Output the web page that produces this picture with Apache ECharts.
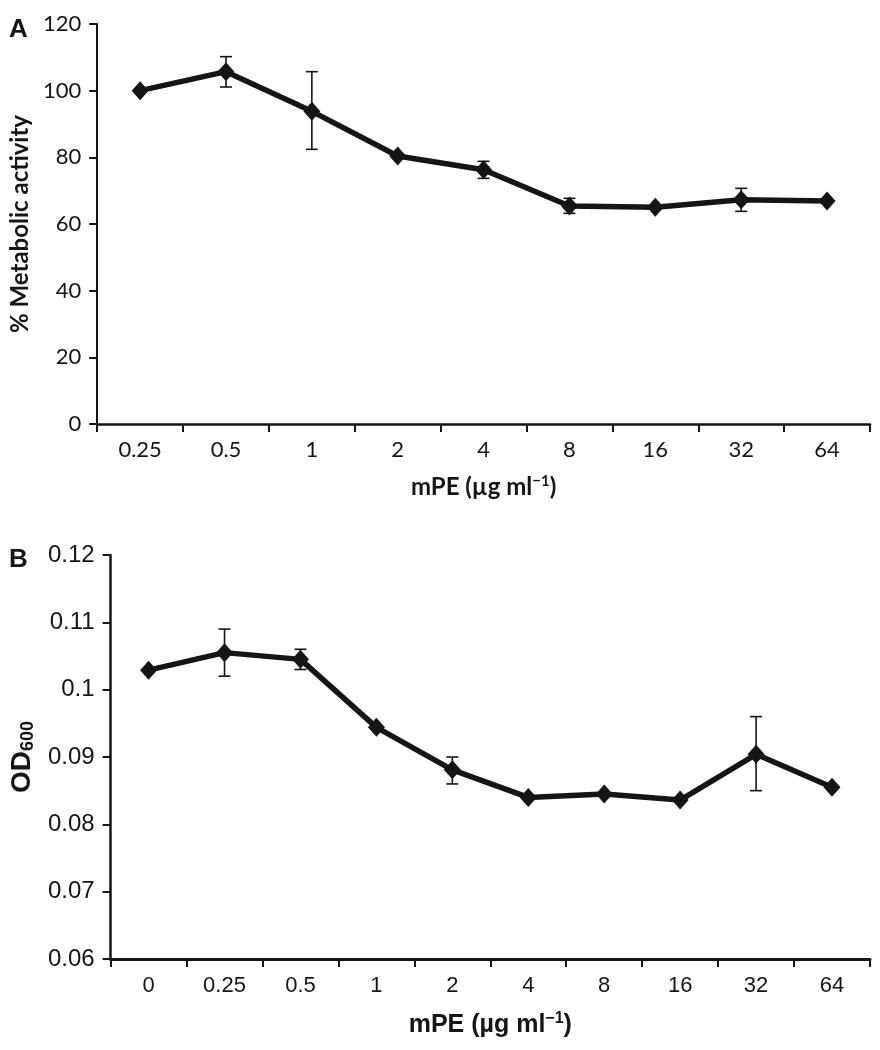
<!DOCTYPE html>
<html>
<head>
<meta charset="utf-8">
<script src="https://cdn.jsdelivr.net/npm/echarts@6/dist/echarts.min.js"></script>
<style>
  html, body { margin: 0; padding: 0; background: #fff; }
  #chart { width: 880px; height: 1050px; }
</style>
</head>
<body>
<div id="chart"></div>
<script>
// panel A - metabolic activity
var catsA = ['0.25', '0.5', '1', '2', '4', '8', '16', '32', '64'];
var meanA = [100, 105.7, 93.8, 80.4, 76.3, 65.4, 65.0, 67.3, 66.9];
var lowA  = [null, 101.1, 82.4, null, 73.7, 63.2, null, 63.8, null];
var highA = [null, 110.2, 105.7, null, 78.8, 67.7, null, 70.7, null];

// panel B - OD600
var catsB = ['0', '0.25', '0.5', '1', '2', '4', '8', '16', '32', '64'];
var meanB = [0.1029, 0.1055, 0.1045, 0.0944, 0.0881, 0.0840, 0.0845, 0.0836, 0.0904, 0.0855];
var lowB  = [null, 0.1020, 0.1030, null, 0.0860, null, null, null, 0.0850, null];
var highB = [null, 0.1090, 0.1060, null, 0.0900, null, null, null, 0.0960, null];

var ink = '#151515';

function errData(low, high) {
  var out = [];
  low.forEach(function (v, i) {
    if (v != null) out.push([i, v, high[i]]);
  });
  return out;
}

function errRender(params, api) {
  var i = api.value(0);
  var top = api.coord([i, api.value(2)]);
  var bot = api.coord([i, api.value(1)]);
  var w = 6;
  var st = { stroke: ink, lineWidth: 1.6 };
  return {
    type: 'group',
    children: [
      { type: 'line', shape: { x1: top[0], y1: top[1], x2: bot[0], y2: bot[1] }, style: st },
      { type: 'line', shape: { x1: top[0] - w, y1: top[1], x2: top[0] + w, y2: top[1] }, style: st },
      { type: 'line', shape: { x1: bot[0] - w, y1: bot[1], x2: bot[0] + w, y2: bot[1] }, style: st }
    ]
  };
}

var fontA = 'Lato, "Open Sans", sans-serif';
var fontB = '"Liberation Sans", Arial, sans-serif';

var chart = echarts.init(document.getElementById('chart'), null, { renderer: 'canvas' });

var option = {
  backgroundColor: '#fff',
  animation: false,
  graphic: [
    { type: 'text', left: 9, top: 17, style: { text: 'A', font: 'bold 26px ' + fontB, fill: ink } },
    { type: 'text', left: 9, top: 547, style: { text: 'B', font: 'bold 26px ' + fontB, fill: ink } }
  ],
  grid: [
    { left: 97, right: 10, top: 24, height: 400 },
    { left: 107, right: 10, top: 555, height: 404 }
  ],
  xAxis: [
    {
      gridIndex: 0, type: 'category', data: catsA, boundaryGap: true,
      axisLine: { lineStyle: { color: ink, width: 2.5 } },
      axisTick: { show: true, length: 8, lineStyle: { color: ink, width: 2 } },
      axisLabel: { color: ink, fontFamily: fontA, fontSize: 22, margin: 15 },
      name: 'mPE (µg ml{sup|−1})', nameLocation: 'middle', nameGap: 50,
      nameTextStyle: {
        color: ink, fontFamily: fontA, fontWeight: 'bold', fontSize: 24,
        rich: { sup: { fontSize: 15, fontWeight: 'bold', fontFamily: fontA, color: ink, verticalAlign: 'top', padding: [0, 0, 12, 0] } }
      }
    },
    {
      gridIndex: 1, type: 'category', data: catsB, boundaryGap: true,
      axisLine: { lineStyle: { color: ink, width: 3 } },
      axisTick: { show: true, length: 8, lineStyle: { color: ink, width: 2 } },
      axisLabel: { color: ink, fontFamily: fontB, fontSize: 22, margin: 16 },
      name: 'mPE (µg ml{sup|−1})', nameLocation: 'middle', nameGap: 52,
      nameTextStyle: {
        color: ink, fontFamily: fontB, fontWeight: 'bold', fontSize: 25,
        rich: { sup: { fontSize: 16, fontWeight: 'bold', fontFamily: fontB, color: ink, verticalAlign: 'top', padding: [0, 0, 12, 0] } }
      }
    }
  ],
  yAxis: [
    {
      gridIndex: 0, type: 'value', min: 0, max: 120, interval: 20,
      splitLine: { show: false },
      axisLine: { show: true, lineStyle: { color: ink, width: 2 } },
      axisTick: { show: true, length: 8, lineStyle: { color: ink, width: 2 } },
      axisLabel: { color: ink, fontFamily: fontA, fontSize: 22, margin: 16 },
      name: '% Metabolic activity', nameLocation: 'middle', nameGap: 64,
      nameTextStyle: { color: ink, fontFamily: fontA, fontWeight: 'bold', fontSize: 24 }
    },
    {
      gridIndex: 1, type: 'value', min: 0.06, max: 0.12, interval: 0.01,
      splitLine: { show: false },
      axisLine: { show: true, lineStyle: { color: ink, width: 2.5 } },
      axisTick: { show: true, length: 8, lineStyle: { color: ink, width: 2 } },
      axisLabel: {
        color: ink, fontFamily: fontB, fontSize: 24, margin: 16,
        formatter: function (v) { return String(+v.toFixed(3)); }
      },
      name: 'OD{sub|600}', nameLocation: 'middle', nameGap: 64,
      nameTextStyle: {
        color: ink, fontFamily: fontB, fontWeight: 'bold', fontSize: 28,
        rich: { sub: { fontSize: 18, fontWeight: 'bold', fontFamily: fontB, color: ink, verticalAlign: 'bottom', padding: [12, 0, 0, 0] } }
      }
    }
  ],
  series: [
    {
      type: 'custom', xAxisIndex: 0, yAxisIndex: 0, renderItem: errRender,
      data: errData(lowA, highA), z: 3
    },
    {
      type: 'line', xAxisIndex: 0, yAxisIndex: 0, data: meanA,
      symbol: 'diamond', symbolSize: [17, 19], showAllSymbol: true,
      lineStyle: { color: ink, width: 5.5 }, itemStyle: { color: ink }, z: 2
    },
    {
      type: 'custom', xAxisIndex: 1, yAxisIndex: 1, renderItem: errRender,
      data: errData(lowB, highB), z: 3
    },
    {
      type: 'line', xAxisIndex: 1, yAxisIndex: 1, data: meanB,
      symbol: 'diamond', symbolSize: [17, 19], showAllSymbol: true,
      lineStyle: { color: ink, width: 5.5 }, itemStyle: { color: ink }, z: 2
    }
  ]
};

chart.setOption(option);
</script>
</body>
</html>
